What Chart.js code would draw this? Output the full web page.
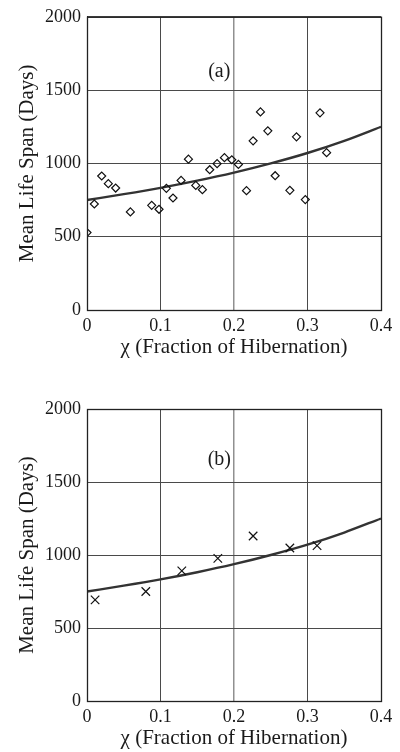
<!DOCTYPE html>
<html lang="en">
<head>
  <meta charset="UTF-8">
  <title>Mean life span vs fraction of hibernation</title>
  <script src="https://cdn.jsdelivr.net/npm/chart.js"></script>
  <style>
    html, body { margin: 0; padding: 0; background: #fff; }
    .wrap { width: 400px; height: 376px; position: relative; }
  </style>
</head>
<body>

<div class="wrap"><canvas id="chartA" width="400" height="376"></canvas></div>
<div class="wrap"><canvas id="chartB" width="400" height="376"></canvas></div>

<script>
// panel (a): observed points (diamonds)
const hibA = [0.000, 0.010, 0.020, 0.029, 0.039, 0.059, 0.088, 0.098, 0.108, 0.117,
              0.128, 0.138, 0.148, 0.157, 0.167, 0.177, 0.187, 0.197, 0.206, 0.217,
              0.226, 0.236, 0.246, 0.256, 0.276, 0.285, 0.297, 0.317, 0.326];
const lifeA = [528, 723, 914, 862, 832, 669, 714, 687, 830, 764,
               884, 1029, 850, 821, 957, 998, 1039, 1025, 993, 814,
               1154, 1351, 1222, 916, 816, 1181, 753, 1345, 1073];

// panel (b): grouped points (crosses)
const hibB = [0.011, 0.080, 0.129, 0.178, 0.226, 0.276, 0.313];
const lifeB = [693, 750, 891, 977, 1130, 1048, 1064];

// fitted curve
const fitX = [0, 0.05, 0.10, 0.15, 0.20, 0.25, 0.30, 0.35, 0.40];
const fitY = [750, 790, 833, 882, 937, 1000, 1071, 1154, 1250];

const FONT = "'Liberation Serif', 'DejaVu Serif', serif";
const INK = '#333';
const GRID = '#4a4a4a';
const TEXT = '#1a1a1a';

function pts(xs, ys) { return xs.map((x, i) => ({x: x, y: ys[i]})); }

const frame = {
  id: 'frame',
  afterDatasetsDraw(chart, args, opts) {
    const {ctx, chartArea: a} = chart;
    ctx.save();
    ctx.strokeStyle = '#222';
    ctx.lineWidth = 1.3;
    ctx.strokeRect(a.left + 0.5, a.top + 0.5, a.right - a.left, a.bottom - a.top);
    // panel letter
    const px = chart.scales.x.getPixelForValue(opts.at[0]);
    const py = chart.scales.y.getPixelForValue(opts.at[1]);
    ctx.fillStyle = TEXT;
    ctx.font = '20px ' + FONT;
    ctx.textAlign = 'center';
    ctx.textBaseline = 'middle';
    ctx.fillText(opts.text, px, py);
    ctx.restore();
  }
};

function makeChart(id, xs, ys, style, radius, letter, letterAt, top, bottomPad) {
  const ctx = document.getElementById(id).getContext('2d');
  return new Chart(ctx, {
    type: 'scatter',
    data: {
      datasets: [
        { data: pts(xs, ys), pointStyle: style, pointRadius: radius, pointHoverRadius: radius,
          borderColor: '#111', backgroundColor: 'rgba(0,0,0,0)', borderWidth: 1.2, showLine: false },
        { data: pts(fitX, fitY), showLine: true, pointRadius: 0, borderColor: INK,
          borderWidth: 2.4, tension: 0.4, cubicInterpolationMode: 'monotone', fill: false }
      ]
    },
    options: {
      responsive: false, animation: false,
      layout: { padding: { top: top, right: 19, left: 0, bottom: bottomPad } },
      plugins: { legend: { display: false }, tooltip: { enabled: false },
                 frame: { text: letter, at: letterAt } },
      scales: {
        x: {
          type: 'linear', min: 0, max: 0.4,
          ticks: { stepSize: 0.1, color: TEXT, font: { family: FONT, size: 18 }, padding: 5,
                   maxRotation: 0, callback: v => String(Math.round(v * 10) / 10) },
          grid: { color: c => (Math.abs(c.tick.value - 0.2) < 1e-6 ? '#909090' : GRID),
                  lineWidth: c => (Math.abs(c.tick.value - 0.2) < 1e-6 ? 1.5 : 1), drawTicks: false },
          border: { color: '#222' },
          title: { display: true, text: 'χ (Fraction of Hibernation)', color: TEXT,
                   font: { family: FONT, size: 21 }, padding: { top: 0, bottom: 0 } },
          afterFit: s => { s.height = 50; }
        },
        y: {
          min: 0, max: 2000,
          ticks: { stepSize: 500, color: TEXT, font: { family: FONT, size: 18 }, padding: 6,
                   callback: v => String(v) },
          grid: { color: GRID, lineWidth: 1, drawTicks: false },
          border: { color: '#222' },
          title: { display: true, text: 'Mean Life Span (Days)', color: TEXT,
                   font: { family: FONT, size: 21 }, padding: { top: 15, bottom: 0 } },
          afterFit: s => { s.width = 87; }
        }
      }
    },
    plugins: [frame]
  });
}

makeChart('chartA', hibA, lifeA, 'rectRot', 4, '(a)', [0.18, 1625], 16, 16);
makeChart('chartB', hibB, lifeB, 'crossRot', 6, '(b)', [0.18, 1650], 33, 1);
</script>

</body>
</html>
